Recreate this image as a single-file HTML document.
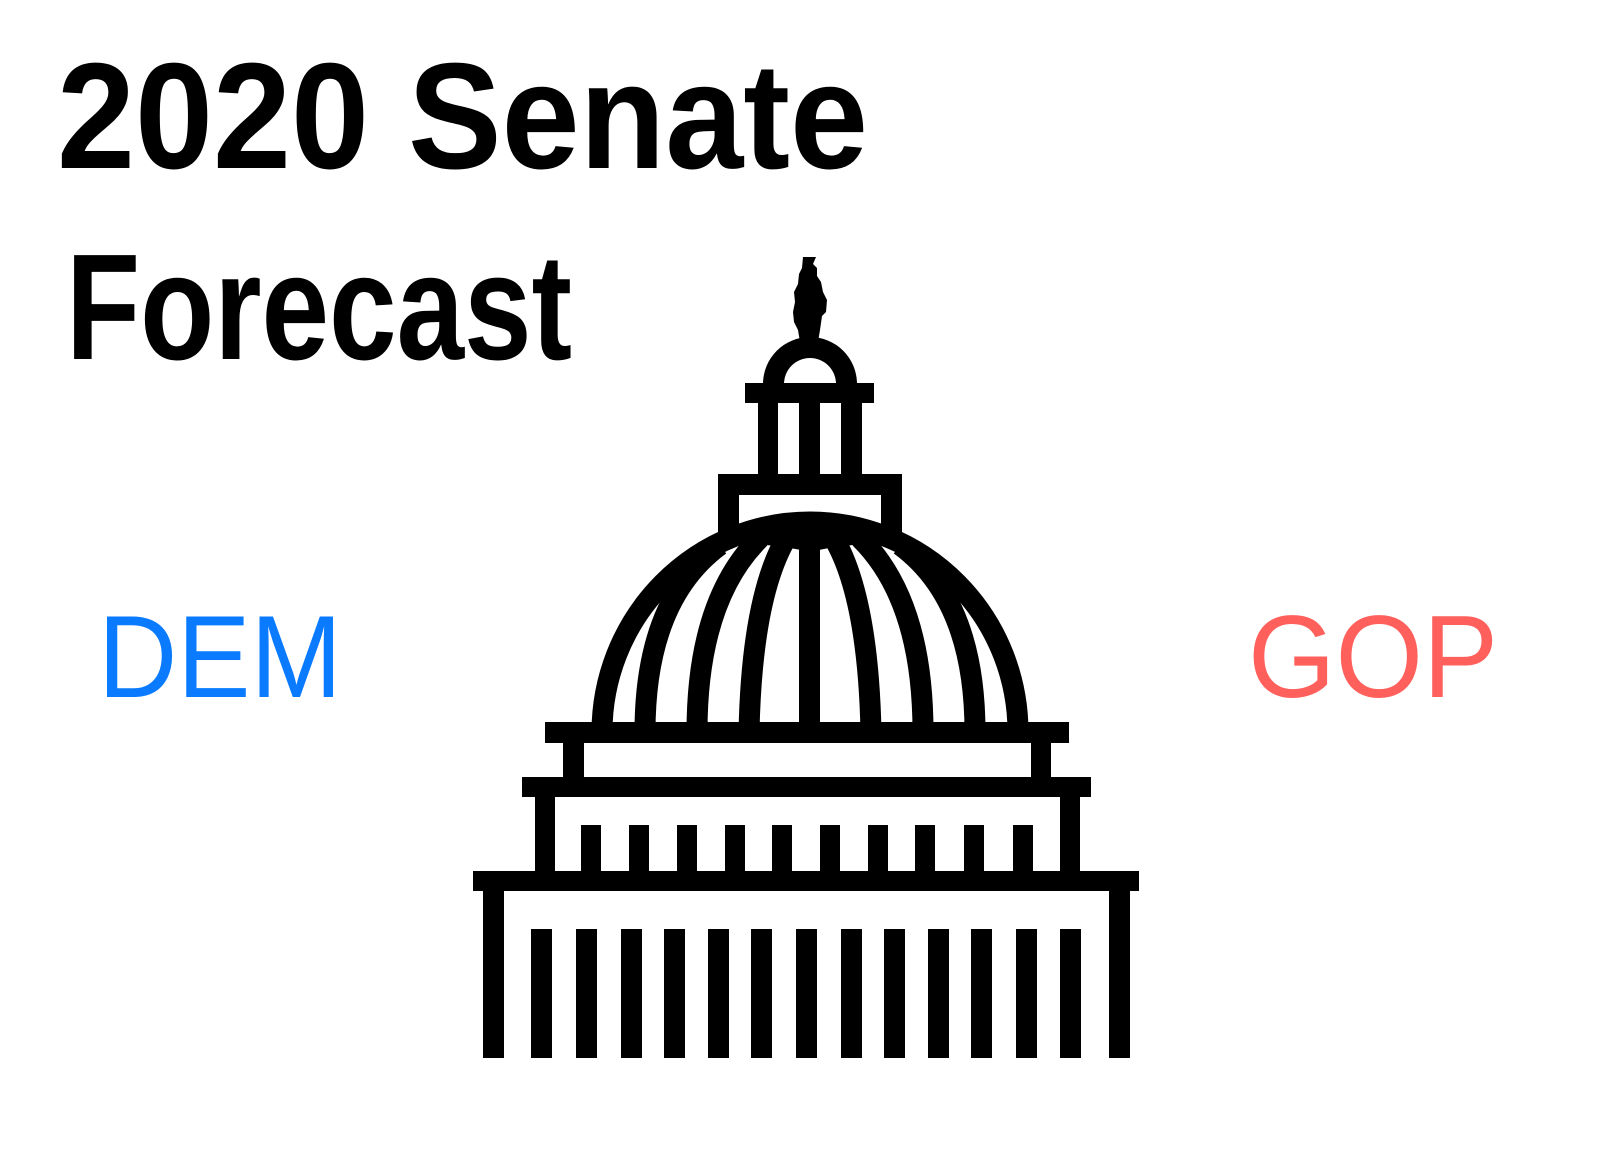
<!DOCTYPE html>
<html><head><meta charset="utf-8"><style>
html,body{margin:0;padding:0;background:#fff;}
svg{display:block;}
</style></head><body>
<svg width="1618" height="1149" viewBox="0 0 1618 1149" xmlns="http://www.w3.org/2000/svg">
<rect width="1618" height="1149" fill="#fff"/>
<g font-family="Liberation Sans, sans-serif" font-weight="bold" fill="#000">
  <text x="57" y="168" font-size="151" textLength="811" lengthAdjust="spacingAndGlyphs">2020 Senate</text>
  <text x="66" y="359" font-size="151" textLength="506" lengthAdjust="spacingAndGlyphs">Forecast</text>
</g>
<text x="98" y="697" font-family="Liberation Sans, sans-serif" font-size="117" fill="#0a7bff" textLength="244" lengthAdjust="spacingAndGlyphs">DEM</text>
<text x="1248" y="697" font-family="Liberation Sans, sans-serif" font-size="117" fill="#ff605c" textLength="250" lengthAdjust="spacingAndGlyphs">GOP</text>

<g fill="#000">
  <path d="M803 257 L816 257 L813 264 L817 268 L817 276 L821 282 L823 292 L827 300 L826 312 L822 316 L820 330 L818 342 L800 342 L798 330 L794 322 L793 312 L795 302 L794 292 L798 284 L799 274 L802 268 Z"/>
  <path d="M763 384 A47 47 0 0 1 857 384 L836 384 A26 26 0 0 0 784 384 Z"/>
  <rect x="745" y="383" width="129" height="20"/>
  <rect x="758" y="403" width="20" height="72"/>
  <rect x="799" y="403" width="21" height="72"/>
  <rect x="841" y="403" width="21" height="72"/>
  <rect x="718" y="474" width="184" height="21"/>
  <rect x="718" y="474" width="21" height="62"/>
  <rect x="881" y="474" width="21" height="62"/>
  <path d="M602 732 A208 210 0 0 1 1018 732" fill="#fff" stroke="#000" stroke-width="21"/>
  <path d="M700 545 Q810 500 920 545 Q860 540 810 552 Q760 540 700 545 Z"/>
  <g fill="none" stroke="#000" stroke-width="21">
    <path d="M645 732 Q645 600 720 545"/>
    <path d="M697 732 Q697 600 760 538"/>
    <path d="M749 732 Q752 590 790 532"/>
    <path d="M975 732 Q975 600 900 545"/>
    <path d="M923 732 Q923 600 860 538"/>
    <path d="M871 732 Q868 590 830 532"/>
  </g>
  <rect x="799" y="525" width="21" height="207"/>
  <rect x="545" y="722" width="524" height="21"/>
  <rect x="563" y="743" width="21" height="36"/>
  <rect x="1031" y="743" width="20" height="36"/>
  <rect x="522" y="777" width="569" height="20"/>
  <rect x="535" y="797" width="20" height="76"/>
  <rect x="1060" y="797" width="20" height="76"/>
  <g id="short-cols"></g>
  <rect x="473" y="871" width="666" height="20"/>
  <rect x="483" y="891" width="21" height="167"/>
  <rect x="1109" y="891" width="21" height="167"/>
  <g id="long-cols"></g>
</g>
</svg>
<script>
const shortCols=[581,629,677,725,772,820,868,915,964,1013];
const longCols=[531,576,621,664,708,751,796,841,884,928,971,1016,1060];
const NS='http://www.w3.org/2000/svg';
const sg=document.getElementById('short-cols');
shortCols.forEach((x,i)=>{const r=document.createElementNS(NS,'rect');
r.setAttribute('x',x);r.setAttribute('y',825);r.setAttribute('width',20);r.setAttribute('height',48);


sg.appendChild(r);});
const lg=document.getElementById('long-cols');
longCols.forEach((x,i)=>{const r=document.createElementNS(NS,'rect');
r.setAttribute('x',x);r.setAttribute('y',929);r.setAttribute('width',21);r.setAttribute('height',129);


lg.appendChild(r);});
</script>
</body></html>
